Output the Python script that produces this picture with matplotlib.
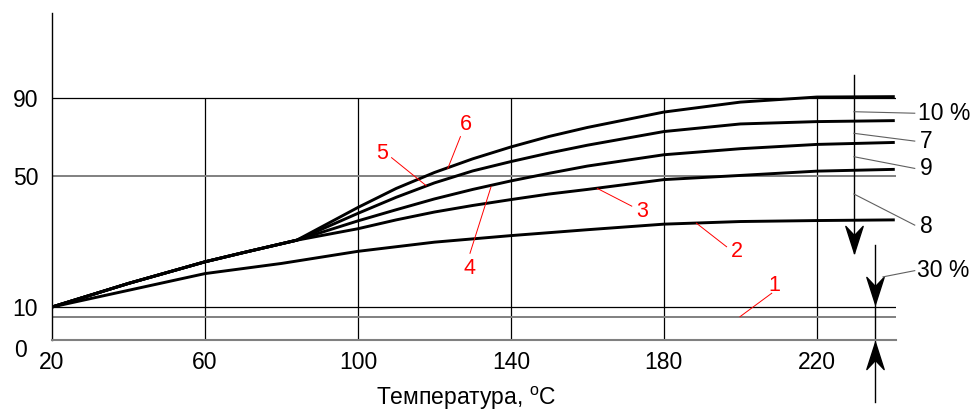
import numpy as np
import matplotlib.pyplot as plt
from matplotlib.path import Path
from matplotlib.transforms import ScaledTranslation

plt.rcParams['font.family'] = ['Liberation Sans', 'DejaVu Sans']
plt.rcParams['mathtext.fontset'] = 'custom'
plt.rcParams['mathtext.rm'] = 'Liberation Sans'

# the printed y axis is not linear: 0, 10, 50, 90 sit at uneven heights
y_marks = [-30, 0, 10, 50, 90, 150]
y_height = [-99, 0, 33, 164, 242, 359]

x_ticks = [20, 60, 100, 140, 180, 220]
y_ticks = [0, 10, 50, 90]

# common part of curves 3-6 (before they split)
temp_common = [20, 40, 60, 70, 84]
common = [10, 17.2, 23.8, 26.6, 30.4]

temp_split = [100, 110, 120, 130, 140, 150, 160, 180, 200, 220, 240]
curve3 = [33.9, 36.6, 39.0, 41.0, 42.8, 44.5, 45.9, 48.9, 50.3, 52.5, 53.4]
curve4 = [36.3, 39.7, 43.0, 45.9, 48.5, 51.4, 55.1, 60.9, 64.0, 66.2, 67.2]
curve5 = [38.6, 43.5, 47.9, 52.6, 57.4, 61.8, 65.8, 72.8, 76.7, 77.9, 78.4]
curve6 = [40.4, 46.2, 51.8, 58.8, 64.9, 70.3, 74.9, 82.8, 87.9, 90.5, 90.7]

temp2 = [20, 40, 60, 80, 100, 120, 140, 160, 180, 200, 220, 240]
curve2 = [10, 15.1, 20.2, 23.3, 27.0, 29.8, 31.8, 33.6, 35.3, 36.1, 36.4, 36.6]

curve1_level = 7.1

# red curve labels: (text, text pos, leader start, leader end)
curve_labels = [
    ('1', (208.8, 16.7), (208.2, 14.2), (199.9, 7.06)),
    ('2', (199.0, 26.9), (196.4, 28.4), (188.5, 35.6)),
    ('3', (174.2, 39.1), (171.6, 40.8), (162.6, 46.2)),
    ('4', (129.1, 21.8), (129.3, 26.4), (134.8, 46.7)),
    ('5', (106.2, 61.6), (108.8, 59.4), (117.8, 47.1)),
    ('6', (128.2, 76.2), (126.8, 70.2), (123.5, 53.9)),
]

# right side notes along the down arrow: (text, leader start y, leader end y, text y)
arrow_x = 229.7
side_notes = [
    ('10 %', 82.97, 82.2, 82.3),
    ('7', 71.9, 67.9, 67.6),
    ('9', 59.9, 53.9, 54.1),
    ('8', 44.5, 35.0, 34.7),
]


def forward(v):
    return np.interp(v, y_marks, y_height)


def inverse(p):
    return np.interp(p, y_height, y_marks)


def arrow_head(up=False):
    s = -1 if up else 1
    verts = [(0, 0), (-0.32, s * 1), (0, s * 0.66), (0.32, s * 1), (0, 0)]
    codes = [Path.MOVETO, Path.LINETO, Path.LINETO, Path.LINETO, Path.CLOSEPOLY]
    return Path(verts, codes)


fig = plt.figure(figsize=(9.74, 4.12), dpi=100)
ax = fig.add_axes([52 / 974, 72 / 412, 844 / 974, 327 / 412])
ax.set_yscale('function', functions=(forward, inverse))
ax.set_xlim(20, 240.7)
ax.set_ylim(0, 133.6)

# grid
ax.vlines(x_ticks[1:], 0, 90, color='black', lw=0.9)
ax.axhline(90, color='black', lw=0.9)
ax.axhline(50, color='#808080', lw=1.4)
ax.axhline(10, color='black', lw=0.9)
ax.axhline(curve1_level, color='#808080', lw=1.4)

# curves
ax.plot(temp2, curve2, color='black', lw=2.1)
for c in [curve3, curve4, curve5, curve6]:
    ax.plot(temp_common + temp_split, common + c, color='black', lw=2.1)

for txt, tpos, p0, p1 in curve_labels:
    ax.plot([p0[0], p1[0]], [p0[1], p1[1]], color='red', lw=0.7)
    ax.text(tpos[0], tpos[1], txt, color='red', fontsize=15.5, ha='center', va='center')

# down arrow with the side notes
ax.plot([arrow_x, arrow_x], [101.8, 26.6], color='black', lw=1, clip_on=False)
ax.plot(arrow_x, 26.6, marker=arrow_head(), ms=39, color='black', clip_on=False)
for txt, y0, y1, ty in side_notes:
    ax.plot([arrow_x, 245.6], [y0, y1], color='#606060', lw=0.8, clip_on=False)
    ax.text(247.0 if txt != '10 %' else 246.4, ty, txt, fontsize=16.5, ha='left', va='center')

# 30 % dimension arrows
ax.plot([235.2, 235.2], [28.9, -18.7], color='black', lw=1, clip_on=False)
ax.plot(235.2, 10.9, marker=arrow_head(), ms=39, color='black', clip_on=False)
ax.plot(235.2, -0.5, marker=arrow_head(up=True), ms=39, color='black', clip_on=False)
ax.plot([237.3, 245.6], [19.2, 21.1], color='#606060', lw=0.8, clip_on=False)
ax.text(246.2, 21.1, '30 %', fontsize=16.5, ha='left', va='center')

# axes
for side in ['top', 'right']:
    ax.spines[side].set_visible(False)
ax.spines['bottom'].set_color('#808080')
ax.spines['bottom'].set_linewidth(1.5)
ax.spines['left'].set_linewidth(1)

ax.set_xticks(x_ticks)
ax.set_yticks(y_ticks)
ax.set_yticklabels([str(v) for v in y_ticks])
ax.tick_params(axis='both', length=0, labelsize=16.5)
ax.tick_params(axis='x', pad=8)
ax.tick_params(axis='y', pad=10)
zero = ax.get_yticklabels()[0]
zero.set_transform(zero.get_transform() + ScaledTranslation(-0.11, -0.08, fig.dpi_scale_trans))

ax.set_xlabel('Температура, $^\\mathrm{o}$C', fontsize=16.5)
ax.xaxis.set_label_coords(0.491, -0.136)

fig.savefig('out.png', dpi=100)
